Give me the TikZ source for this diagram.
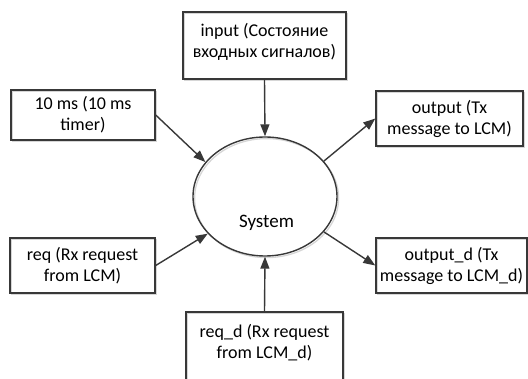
\documentclass[tikz,border=0pt]{standalone}
\usepackage{fontspec}
\setmainfont{Carlito}
\usetikzlibrary{arrows.meta,shapes.geometric}
\definecolor{edge}{HTML}{383838}
\begin{document}
\begin{tikzpicture}[x=1pt,y=-1pt,
  font=\fontsize{18}{21}\selectfont,
  softshadow/.style={preaction={draw=black!16, line width=1.3pt,
      transform canvas={shift={(1.6pt,-1.6pt)}}}},
  box/.style={draw=edge, line width=1.4pt, rectangle, inner sep=0pt,
      align=center, softshadow},
  caption/.style={anchor=north, align=center, inner sep=0pt},
  link/.style={draw=edge, line width=1.4pt,
      -{Triangle[length=12pt,width=9pt]}}]
\useasboundingbox (0,0) rectangle (528,379);
\clip (0,0) rectangle (528,379);

% central process
\node[draw=edge, line width=1.4pt, ellipse, minimum width=144pt,
      minimum height=119pt, inner sep=0pt, softshadow] (sys) at (265,196.5) {};
\node[font=\fontsize{19}{22}\selectfont] (systxt) at (266.5,223) {System};

% inputs and outputs
\node[box, minimum width=163pt, minimum height=67pt] (input) at (264.5,45.5) {};
\node[caption] (inputtxt) at ([yshift=-12pt]input.north)
  {input (Состояние\\входных сигналов)};

\node[box, minimum width=144pt, minimum height=50pt] (ten) at (83,115)
  {10 ms (10 ms\\timer)};
\node[box, minimum width=147pt, minimum height=55pt] (out) at (449.5,118.5)
  {output (Tx\\message to LCM)};
\node[box, minimum width=145pt, minimum height=55pt] (req) at (82.5,265.5)
  {req (Rx request\\from LCM)};
\node[box, minimum width=151pt, minimum height=55pt] (outd) at (451.5,265.5)
  {output\_d (Tx\\message to LCM\_d)};

\node[box, minimum width=157pt, minimum height=70pt] (reqd) at (264.5,347) {};
\node[caption] (reqdtxt) at ([yshift=-13pt]reqd.north)
  {req\_d (Rx request\\from LCM\_d)};

% data flows
\draw[link] (input.south) -- (sys.north);
\draw[link] (ten.east) -- (sys.150);
\draw[link] (req.east) -- (sys.213);
\draw[link] (reqd.north) -- (sys.south);
\draw[link] (sys.31) -- (out.west);
\draw[link] (sys.-31) -- (outd.west);
\end{tikzpicture}
\end{document}
